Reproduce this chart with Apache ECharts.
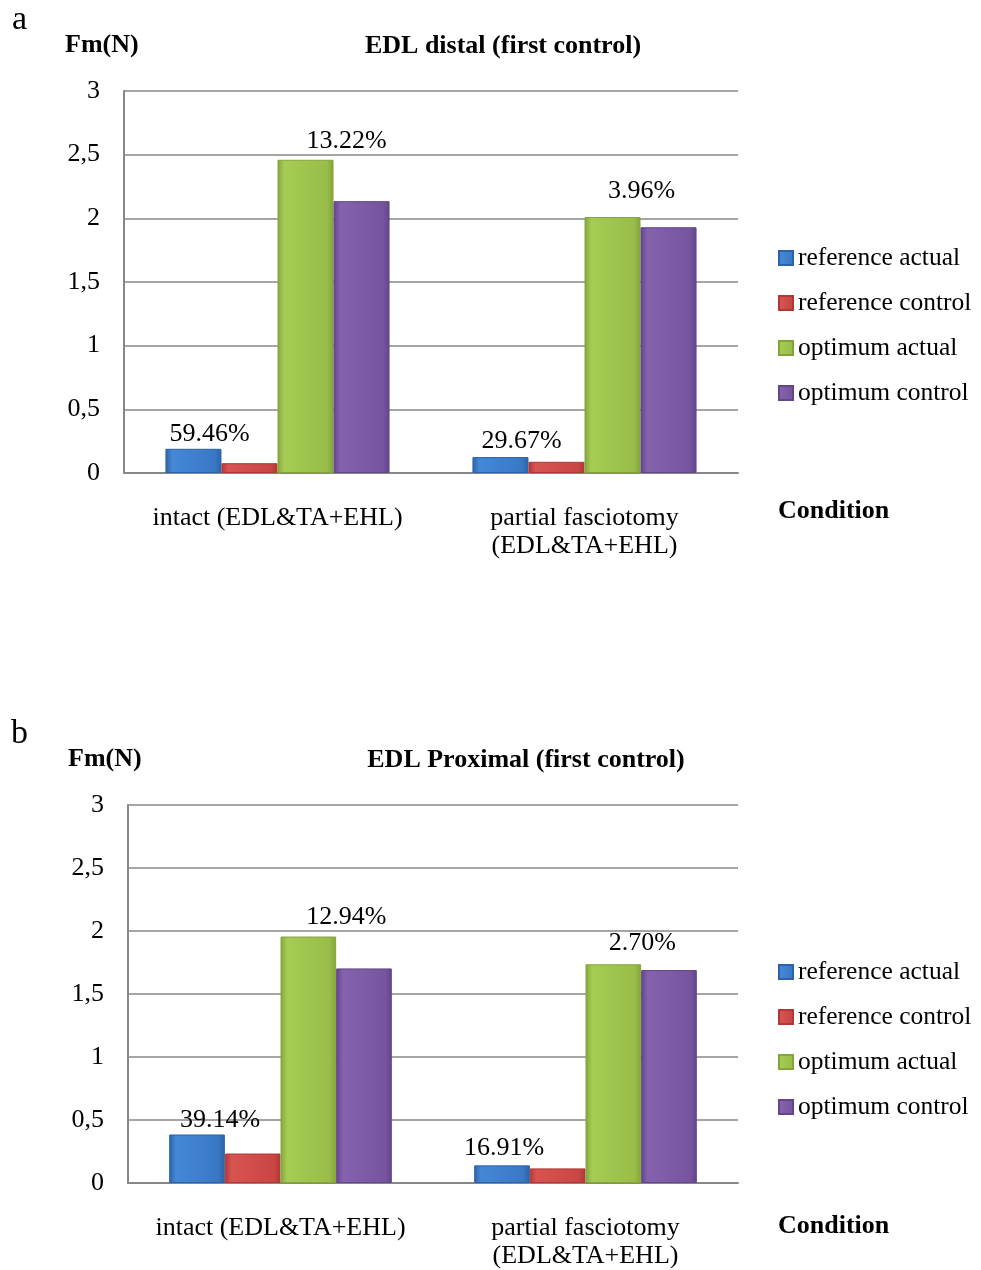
<!DOCTYPE html>
<html><head><meta charset="utf-8">
<script src="https://cdn.jsdelivr.net/npm/echarts@6/dist/echarts.min.js"></script>
<style>html,body{margin:0;padding:0;background:#fff}#c{width:981px;height:1270px}</style>
</head><body><div id="c"></div>
<script>
// ---- data ----
const categories = ['intact (EDL&TA+EHL)', 'partial fasciotomy\n(EDL&TA+EHL)'];
const seriesNames = ['reference actual', 'reference control', 'optimum actual', 'optimum control'];
const yTickValues = [0, 0.5, 1, 1.5, 2, 2.5, 3];

const distalRefActual = [0.19, 0.125];
const distalRefControl = [0.077, 0.088];
const distalOptActual = [2.46, 2.01];
const distalOptControl = [2.135, 1.93];
const distalRefPct = ['59.46%', '29.67%'];
const distalOptPct = ['13.22%', '3.96%'];

const proxRefActual = [0.385, 0.14];
const proxRefControl = [0.234, 0.116];
const proxOptActual = [1.956, 1.736];
const proxOptControl = [1.703, 1.69];
const proxRefPct = ['39.14%', '16.91%'];
const proxOptPct = ['12.94%', '2.70%'];

// ---- styles ----
const FONT = 'Liberation Serif';
const GRAY = '#878787';
const palette = [
  ['#2b62a8', '#4488d6', '#3a78c4'],
  ['#b03836', '#d85450', '#c94644'],
  ['#84a43a', '#a6cc55', '#98bd48'],
  ['#62458a', '#8562ad', '#77559e']
];
function grad(p) {
  return new echarts.graphic.LinearGradient(0, 0, 1, 0, [
    {offset: 0, color: p[0]}, {offset: 0.12, color: p[1]},
    {offset: 0.88, color: p[2]}, {offset: 1, color: p[0]}
  ]);
}
// label offsets (styling) for [category0, category1]
const offDistalRef = [[16, 2], [21, 1]];
const offDistalOpt = [[41, -2], [29, -9]];
const offProxRef = [[23, 3], [2, 0]];
const offProxOpt = [[38, -2], [29, -4]];

function withLabels(vals, pcts, offs) {
  return vals.map((v, i) => ({
    value: v,
    label: {show: true, position: 'top', distance: 4, formatter: pcts[i], offset: offs[i],
      fontFamily: FONT, fontSize: 26, color: '#000'}
  }));
}

const chartData = [
  [withLabels(distalRefActual, distalRefPct, offDistalRef), distalRefControl,
   withLabels(distalOptActual, distalOptPct, offDistalOpt), distalOptControl],
  [withLabels(proxRefActual, proxRefPct, offProxRef), proxRefControl,
   withLabels(proxOptActual, proxOptPct, offProxOpt), proxOptControl]
];

const grids = [
  {left: 124, top: 91, width: 614, height: 382},
  {left: 128, top: 805, width: 610, height: 382}
];

const xAxes = grids.map((g, i) => ({
  type: 'category', gridIndex: i, data: categories,
  axisLine: {lineStyle: {color: GRAY, width: 2}},
  axisTick: {show: false},
  axisLabel: {fontFamily: FONT, fontSize: 26, color: '#000', margin: 31, lineHeight: 28, interval: 0}
}));
const yAxes = grids.map((g, i) => ({
  type: 'value', gridIndex: i, min: yTickValues[0], max: yTickValues[yTickValues.length - 1], interval: 0.5,
  axisLine: {show: true, lineStyle: {color: GRAY, width: 2}},
  axisTick: {show: false},
  splitLine: {lineStyle: {color: GRAY, width: 1.5}},
  axisLabel: {fontFamily: FONT, fontSize: 26, color: '#000', margin: 24,
    formatter: v => String(v).replace('.', ',')}
}));

const series = [];
chartData.forEach((set, gi) => {
  set.forEach((d, si) => {
    series.push({
      name: seriesNames[si], type: 'bar', xAxisIndex: gi, yAxisIndex: gi,
      data: d, barGap: '0%', barCategoryGap: '27%',
      itemStyle: {color: grad(palette[si]), borderColor: palette[si][0], borderWidth: 1},
      emphasis: {disabled: true}, animation: false
    });
  });
});

const legendBase = {
  orient: 'vertical', left: 773, data: seriesNames, icon: 'rect',
  itemWidth: 14, itemHeight: 14, itemGap: 15,
  textStyle: {fontFamily: FONT, fontSize: 25.5, color: '#000', lineHeight: 30}
};

function txt(x, y, text, size, bold, align) {
  return {type: 'text', x: x, y: y, style: {text: text, fontFamily: FONT, fontSize: size,
    fontWeight: bold ? 'bold' : 'normal', fill: '#000', textAlign: align || 'left', textVerticalAlign: 'middle'}};
}

const chart = echarts.init(document.getElementById('c'));
chart.setOption({
  animation: false,
  backgroundColor: '#fff',
  grid: grids,
  xAxis: xAxes,
  yAxis: yAxes,
  series: series,
  legend: [Object.assign({top: 238}, legendBase), Object.assign({top: 952}, legendBase)],
  graphic: [
    txt(12, 20, 'a', 34, false),
    txt(65, 45, 'Fm(N)', 26, true),
    txt(503, 46, 'EDL distal (first control)', 26, true, 'center'),
    txt(778, 511, 'Condition', 26, true),
    txt(11, 734, 'b', 34, false),
    txt(68, 759, 'Fm(N)', 26, true),
    txt(526, 760, 'EDL Proximal (first control)', 26, true, 'center'),
    txt(778, 1226, 'Condition', 26, true)
  ]
});
</script>
</body></html>
